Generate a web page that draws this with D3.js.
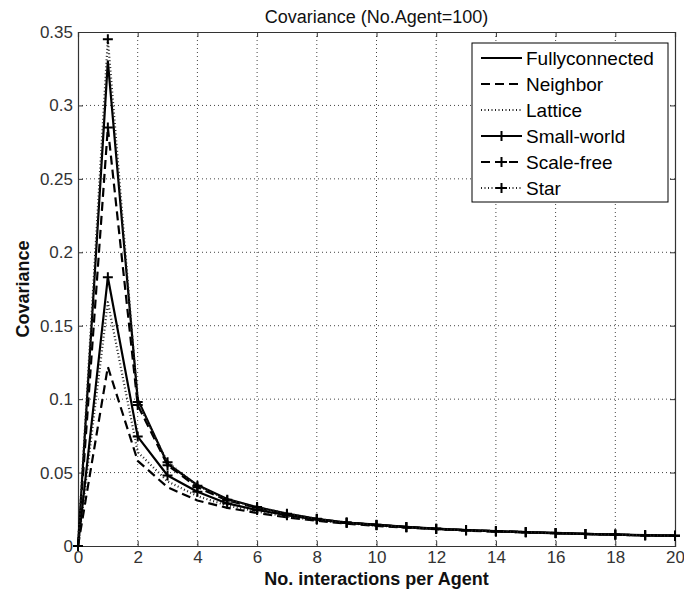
<!DOCTYPE html>
<html>
<head>
<meta charset="utf-8">
<script src="https://cdn.jsdelivr.net/npm/d3@7"></script>
<style>
body{margin:0;background:#fff;}
text{font-family:"Liberation Sans",Arial,sans-serif;}
</style>
</head>
<body>
<svg id="chart" width="684" height="596"></svg>
<script>
const interactions = [0,1,2,3,4,5,6,7,8,9,10,11,12,13,14,15,16,17,18,19,20];
const fullyconnected = [0,0.330,0.100,0.056,0.0415,0.032,0.0265,0.022,0.0185,0.016,0.0145,0.013,0.0118,0.0109,0.0102,0.0095,0.0089,0.0083,0.0078,0.0074,0.0070];
const neighbor = [0,0.122,0.058,0.040,0.031,0.026,0.0225,0.0195,0.0172,0.0152,0.0137,0.0125,0.0114,0.0105,0.0098,0.0092,0.0086,0.0081,0.0076,0.0072,0.0068];
const lattice = [0,0.166,0.064,0.044,0.034,0.0275,0.0235,0.020,0.0176,0.0156,0.014,0.0127,0.0116,0.0107,0.0099,0.0093,0.0087,0.0082,0.0077,0.0073,0.0069];
const smallWorld = [0,0.183,0.0745,0.048,0.037,0.029,0.0245,0.021,0.018,0.0158,0.0142,0.0128,0.0117,0.0108,0.0100,0.0094,0.0088,0.0082,0.0078,0.0073,0.0070];
const scaleFree = [0,0.285,0.096,0.055,0.040,0.031,0.026,0.0215,0.0184,0.016,0.0144,0.013,0.0117,0.0108,0.0101,0.0094,0.0088,0.0082,0.0078,0.0073,0.0070];
const star = [0,0.345,0.098,0.057,0.041,0.0315,0.0265,0.022,0.0185,0.0158,0.0143,0.0128,0.0116,0.0107,0.0101,0.0095,0.0087,0.0081,0.0076,0.0073,0.0070];
const seriesNames = ["Fullyconnected","Neighbor","Lattice","Small-world","Scale-free","Star"];
const xTicks = [0,2,4,6,8,10,12,14,16,18,20];
const yTicks = [0,0.05,0.1,0.15,0.2,0.25,0.3,0.35];
const yTickLabels = ["0","0.05","0.1","0.15","0.2","0.25","0.3","0.35"];

const seriesValues = [fullyconnected, neighbor, lattice, smallWorld, scaleFree, star];
const styles = [
  {dash:null, marker:false, color:"#000", w:2.2},
  {dash:"9,5", marker:false, color:"#000", w:2.2},
  {dash:"1,2.5", marker:false, color:"#222", w:2.2},
  {dash:null, marker:true, color:"#000", w:2.2},
  {dash:"9,5", marker:true, color:"#000", w:2.2},
  {dash:"1,2.5", marker:true, color:"#222", w:2.2}
];

const svg = d3.select("#chart");
const L = 78, R = 675, T = 32, B = 546;
const x = d3.scaleLinear().domain([0,20]).range([L,R]);
const y = d3.scaleLinear().domain([0,0.35]).range([B,T]);

// grid
const g = svg.append("g");
g.selectAll(".vg").data(xTicks.slice(1,-1)).enter().append("line")
  .attr("x1",d=>x(d)).attr("x2",d=>x(d)).attr("y1",T).attr("y2",B)
  .attr("stroke","#444").attr("stroke-width",1).attr("stroke-dasharray","1,3");
g.selectAll(".hg").data(yTicks.slice(1,-1)).enter().append("line")
  .attr("x1",L).attr("x2",R).attr("y1",d=>y(d)).attr("y2",d=>y(d))
  .attr("stroke","#444").attr("stroke-width",1).attr("stroke-dasharray","1,3");

// axes
const xAxis = d3.axisBottom(x).tickValues(xTicks).tickSize(-5).tickPadding(5).tickFormat(d3.format("d"));
const yAxis = d3.axisLeft(y).tickValues(yTicks).tickSize(-5).tickPadding(5).tickFormat((d,i)=>yTickLabels[i]);
const xa = svg.append("g").attr("transform",`translate(0,${B})`).call(xAxis);
const ya = svg.append("g").attr("transform",`translate(${L},0)`).call(yAxis);
const xt = svg.append("g").attr("transform",`translate(0,${T})`).call(d3.axisTop(x).tickValues(xTicks).tickSize(-5).tickFormat(""));
const yr = svg.append("g").attr("transform",`translate(${R},0)`).call(d3.axisRight(y).tickValues(yTicks).tickSize(-5).tickFormat(""));
[xa,ya,xt,yr].forEach(a=>{
  a.select(".domain").attr("stroke","#333").attr("stroke-width",1.2);
  a.selectAll(".tick line").attr("stroke","#333");
  a.selectAll("text").attr("font-size",17).attr("fill","#333").attr("font-family","Liberation Sans, Arial, sans-serif");
});

// lines
const line = d3.line().x((d,i)=>x(interactions[i])).y(d=>y(d));
seriesValues.forEach((vals,k)=>{
  const s = styles[k];
  svg.append("path").datum(vals).attr("d",line).attr("fill","none")
    .attr("stroke",s.color).attr("stroke-width",s.w)
    .attr("stroke-dasharray",s.dash).attr("stroke-linejoin","round");
  if(s.marker){
    const mg = svg.append("g");
    vals.forEach((v,i)=>{
      const cx = x(interactions[i]), cy = y(v);
      mg.append("path").attr("d",`M${cx-5},${cy}H${cx+5}M${cx},${cy-5}V${cy+5}`)
        .attr("stroke","#000").attr("stroke-width",2);
    });
  }
});

// title and labels
svg.append("text").attr("x",(L+R)/2).attr("y",23).attr("text-anchor","middle")
  .attr("font-size",18).attr("fill","#111").text("Covariance (No.Agent=100)");
svg.append("text").attr("x",(L+R)/2).attr("y",585).attr("text-anchor","middle")
  .attr("font-size",18).attr("font-weight","bold").attr("fill","#111").text("No. interactions per Agent");
svg.append("text").attr("transform",`translate(29,${(T+B)/2}) rotate(-90)`).attr("text-anchor","middle")
  .attr("font-size",18).attr("font-weight","bold").attr("fill","#111").text("Covariance");

// legend
const lg = svg.append("g");
lg.append("rect").attr("x",472).attr("y",43).attr("width",196).attr("height",159)
  .attr("fill","#fff").attr("stroke","#000").attr("stroke-width",1);
const rowY = [58,84,110,136,162,188];
seriesNames.forEach((name,k)=>{
  const s = styles[k];
  const yy = rowY[k];
  lg.append("line").attr("x1",481).attr("x2",522).attr("y1",yy).attr("y2",yy)
    .attr("stroke",s.color).attr("stroke-width",2).attr("stroke-dasharray",s.dash);
  if(s.marker){
    lg.append("path").attr("d",`M496,${yy}H507M501.5,${yy-5}V${yy+5}`).attr("stroke","#000").attr("stroke-width",2);
  }
  lg.append("text").attr("x",526).attr("y",yy+7).attr("font-size",19).attr("fill","#000").text(name);
});
</script>
</body>
</html>
